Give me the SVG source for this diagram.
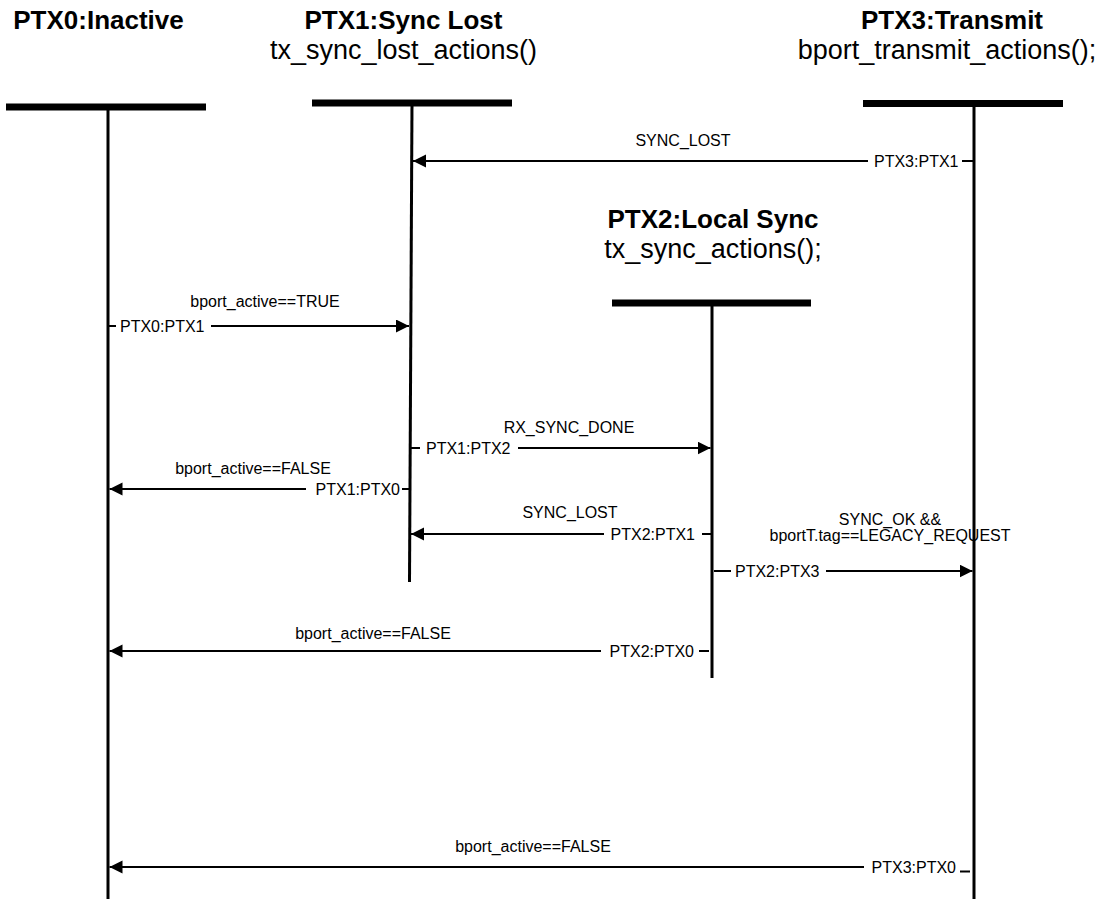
<svg xmlns="http://www.w3.org/2000/svg" width="1104" height="899" viewBox="0 0 1104 899">
<style>
text{font-family:"Liberation Sans",Arial,sans-serif;fill:#000}
.title{font-size:26px;font-weight:bold;text-anchor:middle}
.sub{font-size:27px;text-anchor:middle}
.lbl{font-size:16px}
.mid{text-anchor:middle}
.end{text-anchor:end}
.bar{stroke:#000;stroke-width:7}
.life{stroke:#000;stroke-width:3}
.msg{stroke:#000;stroke-width:2;fill:none;marker-end:url(#ah)}
.tick{stroke:#000;stroke-width:2}
</style>
<defs>
<marker id="ah" markerUnits="userSpaceOnUse" markerWidth="14" markerHeight="14" refX="13" refY="6.5" orient="auto">
<path d="M0,0 L13,6.5 L0,13 z" fill="#000"/>
</marker>
</defs>
<rect width="1104" height="899" fill="#fff"/>
<g id="ptx0">
<text class="title" x="98.5" y="29">PTX0:Inactive</text>
<line class="bar" x1="6" y1="107" x2="206" y2="107"/>
<line class="life" x1="108" y1="107" x2="108" y2="899"/>
</g>
<g id="ptx1">
<text class="title" x="403.5" y="29">PTX1:Sync Lost</text>
<text class="sub" x="403.5" y="59">tx_sync_lost_actions()</text>
<line class="bar" x1="312" y1="103" x2="512" y2="103"/>
<line class="life" x1="412" y1="103" x2="409.5" y2="582"/>
</g>
<g id="ptx2">
<text class="title" x="713" y="228">PTX2:Local Sync</text>
<text class="sub" x="713" y="258">tx_sync_actions();</text>
<line class="bar" x1="612" y1="303" x2="811" y2="303"/>
<line class="life" x1="712" y1="303" x2="712" y2="678"/>
</g>
<g id="ptx3">
<text class="title" x="952" y="29">PTX3:Transmit</text>
<text class="sub" x="947" y="59">bport_transmit_actions();</text>
<line class="bar" x1="863" y1="103.5" x2="1063" y2="103.5"/>
<line class="life" x1="974" y1="103.5" x2="974" y2="899"/>
</g>
<g id="connectors">
<g id="m1">
<line class="tick" x1="962" y1="161" x2="973" y2="161"/>
<text class="lbl" x="874" y="166.5">PTX3:PTX1</text>
<line class="msg" x1="868" y1="161" x2="413" y2="161"/>
<text class="lbl mid" x="683" y="146">SYNC_LOST</text>
</g>
<g id="m2">
<line class="tick" x1="108" y1="326" x2="116" y2="326"/>
<text class="lbl" x="120" y="331.5">PTX0:PTX1</text>
<line class="msg" x1="211" y1="326" x2="409" y2="326"/>
<text class="lbl mid" x="265" y="307">bport_active==TRUE</text>
</g>
<g id="m3">
<line class="tick" x1="411" y1="448" x2="420" y2="448"/>
<text class="lbl" x="426" y="453.5">PTX1:PTX2</text>
<line class="msg" x1="518" y1="448" x2="710.5" y2="448"/>
<text class="lbl mid" x="569" y="433">RX_SYNC_DONE</text>
</g>
<g id="m4">
<line class="tick" x1="402" y1="489" x2="410" y2="489"/>
<text class="lbl end" x="400" y="494.5">PTX1:PTX0</text>
<line class="msg" x1="306" y1="489" x2="109.5" y2="489"/>
<text class="lbl mid" x="253" y="474">bport_active==FALSE</text>
</g>
<g id="m5">
<line class="tick" x1="702" y1="534" x2="711" y2="534"/>
<text class="lbl end" x="695" y="539.5">PTX2:PTX1</text>
<line class="msg" x1="604" y1="534" x2="411" y2="534"/>
<text class="lbl mid" x="570" y="518">SYNC_LOST</text>
</g>
<g id="m6">
<line class="tick" x1="714" y1="571" x2="731" y2="571"/>
<text class="lbl" x="735" y="576.5">PTX2:PTX3</text>
<line class="msg" x1="826" y1="571" x2="972.5" y2="571"/>
<text class="lbl mid" x="890" y="525">SYNC_OK &amp;&amp;</text>
<text class="lbl mid" x="890" y="541">bportT.tag==LEGACY_REQUEST</text>
</g>
<g id="m7">
<line class="tick" x1="699" y1="651" x2="709" y2="651"/>
<text class="lbl end" x="694" y="656.5">PTX2:PTX0</text>
<line class="msg" x1="601" y1="651" x2="109.5" y2="651"/>
<text class="lbl mid" x="373" y="639">bport_active==FALSE</text>
</g>
<g id="m8">
<line class="tick" x1="960" y1="871.5" x2="970" y2="871.5"/>
<text class="lbl end" x="956" y="872.5">PTX3:PTX0</text>
<line class="msg" x1="864" y1="867" x2="109.5" y2="867"/>
<text class="lbl mid" x="533" y="852">bport_active==FALSE</text>
</g>
</g>
</svg>
